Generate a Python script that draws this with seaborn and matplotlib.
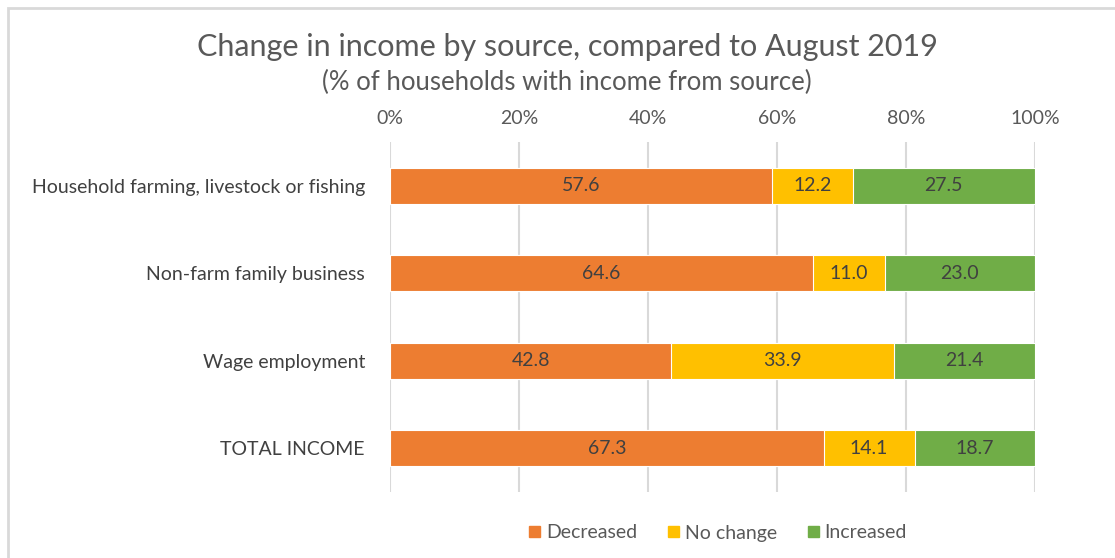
import matplotlib
matplotlib.use("Agg")
import matplotlib.pyplot as plt
import matplotlib.patches as mpatches
import seaborn as sns
import numpy as np
import pandas as pd

categories = ["Household farming, livestock or fishing", "Non-farm family business",
              "Wage employment", "TOTAL INCOME"]
decreased = [57.6, 64.6, 42.8, 67.3]
no_change = [12.2, 11.0, 33.9, 14.1]
increased = [27.5, 23.0, 21.4, 18.7]
series_names = ["Decreased", "No change", "Increased"]
colors = ["#ED7D31", "#FFC000", "#70AD47"]
xticks = [0, 20, 40, 60, 80, 100]

sns.set_theme(style="white")
plt.rcParams["font.family"] = ["Lato", "DejaVu Sans"]

df = pd.DataFrame({"category": categories, "Decreased": decreased,
                   "No change": no_change, "Increased": increased})
tot = df[series_names].sum(axis=1)
pct = df[series_names].div(tot, axis=0) * 100
cum = pct.cumsum(axis=1)
df["c1"] = cum["Decreased"]
df["c2"] = cum["No change"]
df["c3"] = cum["Increased"]

fig = plt.figure(figsize=(11.15, 5.58), dpi=100)
ax = fig.add_axes([390 / 1115, 1 - 492 / 558, 645 / 1115, 350 / 558])

for col, c in zip(["c3", "c2", "c1"], colors[::-1]):
    sns.barplot(data=df, x=col, y="category", order=categories, color=c,
                width=0.415, saturation=1, edgecolor="white", linewidth=0.8, ax=ax, zorder=3)

txt = "#404040"
fs = 14
for i in range(len(categories)):
    starts = [0, df["c1"][i], df["c2"][i]]
    widths = pct.iloc[i].values
    raw = df.loc[i, series_names].values
    for s, w, r in zip(starts, widths, raw):
        ax.text(s + w / 2, i, f"{r:.1f}", ha="center", va="center", fontsize=fs, color=txt, zorder=5)

ax.set_xlim(0, 100)
ax.set_ylim(3.5, -0.5)
ax.set_xticks(xticks)
ax.set_xticklabels([f"{t}%" for t in xticks])
ax.xaxis.tick_top()
ax.tick_params(axis="x", length=0, pad=11, labelsize=fs, labelcolor="#595959")
ax.tick_params(axis="y", length=0, pad=18, labelsize=fs, labelcolor=txt)
ax.set_xlabel("")
ax.set_ylabel("")
for sp in ax.spines.values():
    sp.set_visible(False)
ax.grid(False)
for t in xticks:
    ax.axvline(t, color="#D9D9D9", lw=1.5, zorder=0)

fig.text(567 / 1115, 1 - 47 / 558, "Change in income by source, compared to August 2019",
         ha="center", va="center", fontsize=22, color="#595959")
fig.text(567 / 1115, 1 - 82 / 558, "(% of households with income from source)",
         ha="center", va="center", fontsize=18.5, color="#595959")

handles = [mpatches.Patch(color=c, label=n) for c, n in zip(colors, series_names)]
fig.legend(handles=handles, loc="center", bbox_to_anchor=(718 / 1115, 1 - 533 / 558), ncol=3,
           frameon=False, fontsize=fs, handlelength=0.55, handleheight=0.55, handletextpad=0.3,
           columnspacing=1.6, labelcolor="#595959")

fig.add_artist(mpatches.Rectangle((8 / 1115, -0.1), 1.2, 1 - 8 / 558 + 0.1, transform=fig.transFigure,
                                  fill=False, edgecolor="#D9D9D9", lw=2))

fig.savefig("out.png", dpi=100)
